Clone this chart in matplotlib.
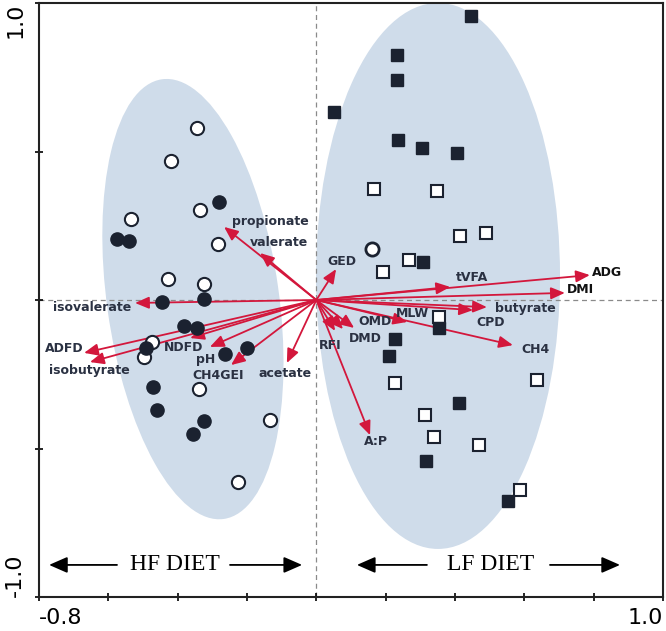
import numpy as np
import matplotlib
matplotlib.use("Agg")
import matplotlib.pyplot as plt
from matplotlib.patches import Ellipse
from matplotlib.transforms import ScaledTranslation

# ---------------- data ----------------
# HF diet samples (circles)
hf_open_x = [-0.344, -0.419, -0.336, -0.535, -0.284, -0.428, -0.324, -0.474, -0.497, -0.338, -0.134, -0.226]
hf_open_y = [0.579, 0.468, 0.303, 0.273, 0.189, 0.071, 0.054, -0.141, -0.192, -0.300, -0.404, -0.613]
hf_fill_x = [-0.281, -0.575, -0.540, -0.445, -0.324, -0.382, -0.344, -0.491, -0.263, -0.200, -0.471, -0.460, -0.324, -0.356]
hf_fill_y = [0.330, 0.205, 0.199, -0.007, 0.003, -0.088, -0.094, -0.162, -0.182, -0.162, -0.293, -0.370, -0.407, -0.451]

# LF diet samples (squares)
lf_open_x = [0.166, 0.348, 0.414, 0.489, 0.192, 0.267, 0.354, 0.227, 0.637, 0.313, 0.339, 0.469, 0.588]
lf_open_y = [0.374, 0.367, 0.215, 0.226, 0.094, 0.135, -0.057, -0.279, -0.269, -0.387, -0.461, -0.488, -0.640]
lf_fill_x = [0.446, 0.233, 0.233, 0.051, 0.236, 0.305, 0.406, 0.308, 0.354, 0.227, 0.210, 0.412, 0.316, 0.553]
lf_fill_y = [0.956, 0.825, 0.741, 0.633, 0.539, 0.512, 0.495, 0.128, -0.094, -0.131, -0.188, -0.347, -0.542, -0.677]
lf_circle_x = [0.161]
lf_circle_y = [0.172]

# variable loadings (arrow tips)
var_names = ["propionate", "valerate", "GED", "isovalerate", "ADFD", "isobutyrate",
             "pH", "NDFD", "CH4GEI", "acetate", "ADG", "DMI", "tVFA", "butyrate",
             "CPD", "MLW", "CH4", "OMD", "DMD", "RFI", "A:P"]
var_x = [-0.266, -0.162, 0.057, -0.523, -0.670, -0.653,
         -0.364, -0.307, -0.246, -0.085, 0.789, 0.717, 0.386, 0.492,
         0.452, 0.262, 0.567, 0.109, 0.077, 0.054, 0.155]
var_y = [0.246, 0.158, 0.104, -0.010, -0.178, -0.209,
         -0.128, -0.158, -0.219, -0.212, 0.084, 0.024, 0.044, -0.024,
         -0.034, -0.074, -0.152, -0.094, -0.098, -0.104, -0.455]

# label anchor positions (layout)
label_pos = {
    "propionate": (-0.134, 0.263), "valerate": (-0.108, 0.192), "GED": (0.074, 0.131),
    "isovalerate": (-0.647, -0.024), "ADFD": (-0.728, -0.162), "isobutyrate": (-0.656, -0.239),
    "pH": (-0.318, -0.200), "NDFD": (-0.382, -0.160), "CH4GEI": (-0.284, -0.253),
    "acetate": (-0.090, -0.249), "ADG": (0.838, 0.094), "DMI": (0.761, 0.037),
    "tVFA": (0.449, 0.077), "butyrate": (0.602, -0.027), "CPD": (0.504, -0.077),
    "MLW": (0.276, -0.047), "CH4": (0.631, -0.165), "OMD": (0.169, -0.071),
    "DMD": (0.140, -0.128), "RFI": (0.039, -0.152), "A:P": (0.172, -0.478),
}

x_ticks = [-0.8, -0.6, -0.4, -0.2, 0.0, 0.2, 0.4, 0.6, 0.8, 1.0]
x_ticklabels = ["-0.8", "", "", "", "", "", "", "", "", "1.0"]
y_ticks = [-1.0, -0.5, 0.0, 0.5, 1.0]
y_ticklabels = ["-1.0", "", "", "", "1.0"]

# ---------------- styles ----------------
ELL_COLOR = "#cfdcea"
ARROW_COLOR = "#d3173c"
LABEL_COLOR = "#2a3142"
MARK_COLOR = "#1b2230"

fig = plt.figure(figsize=(6.66, 6.31), dpi=100)
ax = fig.add_axes([39/666, 1 - 597/631, 624/666, 594/631])
ax.set_xlim(-0.8, 1.0)
ax.set_ylim(-1.0, 1.0)

# group ellipses (center in data units, size in pixels)
for (cx, cy, w, h, ang) in [(-0.356, 0.003, 172, 444, 8), (0.351, 0.081, 244, 546, 0)]:
    e = Ellipse((0, 0), w, h, angle=ang, facecolor=ELL_COLOR, edgecolor="none",
                transform=ScaledTranslation(cx, cy, ax.transData), zorder=0)
    ax.add_patch(e)

# zero lines
ax.axvline(0, color="#8a8a8a", lw=0.9, ls=(0, (4, 3)), zorder=1)
ax.axhline(0, color="#8a8a8a", lw=0.9, ls=(0, (4, 3)), zorder=1)

# arrows
for name, vx, vy in zip(var_names, var_x, var_y):
    ax.annotate("", xy=(vx, vy), xytext=(0, 0),
                arrowprops=dict(arrowstyle="-|>,head_length=0.7,head_width=0.3",
                                color=ARROW_COLOR, lw=1.3, mutation_scale=12,
                                shrinkA=0, shrinkB=0), zorder=2)

# markers
ms = 9.5
ax.plot(hf_open_x, hf_open_y, "o", ms=ms, mfc="white", mec=MARK_COLOR, mew=1.5, ls="none", zorder=3)
ax.plot(hf_fill_x, hf_fill_y, "o", ms=ms, mfc=MARK_COLOR, mec=MARK_COLOR, ls="none", zorder=3)
ax.plot(lf_open_x, lf_open_y, "s", ms=ms - 0.5, mfc="white", mec=MARK_COLOR, mew=1.5, ls="none", zorder=3)
ax.plot(lf_circle_x, lf_circle_y, "o", ms=ms, mfc="white", mec=MARK_COLOR, mew=2.0, ls="none", zorder=3)
ax.plot(lf_fill_x, lf_fill_y, "s", ms=ms - 0.5, mfc=MARK_COLOR, mec=MARK_COLOR, ls="none", zorder=4)

# labels
for name in var_names:
    lx, ly = label_pos[name]
    col = "#111111" if name in ("ADG", "DMI") else LABEL_COLOR
    ax.text(lx, ly, name, fontsize=9, fontweight="bold", color=col,
            ha="center", va="center", zorder=5)

# diet annotations
diet_y = -0.892
for label, cx, left_in, left_out, right_in, right_out in [
        ("HF DIET", -0.408, -0.575, -0.771, -0.249, -0.041),
        ("LF DIET", 0.504, 0.319, 0.117, 0.674, 0.876)]:
    ax.text(cx, diet_y, label, fontsize=17, family="Liberation Serif",
            ha="center", va="center", color="black", zorder=5)
    for a, b in [(left_in, left_out), (right_in, right_out)]:
        ax.annotate("", xy=(b, diet_y), xytext=(a, diet_y),
                    arrowprops=dict(arrowstyle="-|>,head_length=0.8,head_width=0.35",
                                    color="black", lw=1.3, mutation_scale=14,
                                    shrinkA=0, shrinkB=0), zorder=5)

# axes styling
ax.set_xticks(x_ticks)
ax.set_xticklabels(x_ticklabels, fontsize=16)
ax.set_yticks(y_ticks)
ax.set_yticklabels(y_ticklabels, fontsize=16, rotation=90)
ax.tick_params(direction="inout", length=6, width=1.2)
ax.tick_params(axis="x", pad=5)
ax.tick_params(axis="y", pad=7)
tl = ax.get_xticklabels()
tl[0].set_ha("left")
tl[-1].set_ha("right")
yl = ax.get_yticklabels()
yl[0].set_va("bottom")
yl[-1].set_va("top")
for s in ax.spines.values():
    s.set_linewidth(1.5)
    s.set_color("#222222")

fig.savefig("out.png", dpi=100)
